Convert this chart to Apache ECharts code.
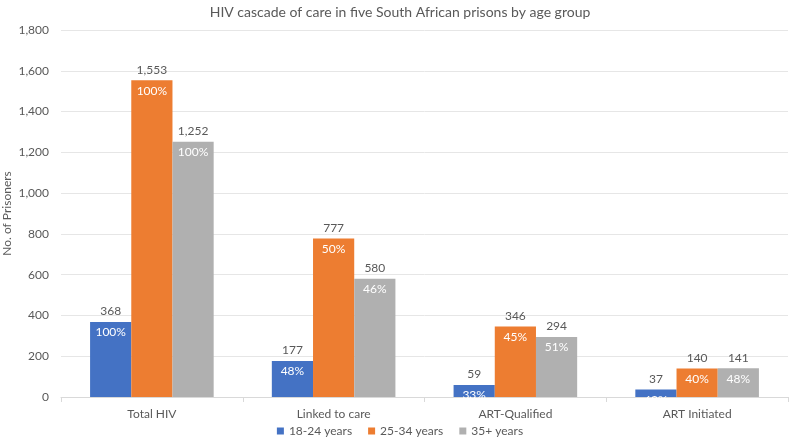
<!DOCTYPE html>
<html>
<head>
<meta charset="utf-8">
<script src="https://cdn.jsdelivr.net/npm/echarts@6/dist/echarts.min.js"></script>
<style>
  html, body { margin: 0; padding: 0; background: #fff; }
  #chart { width: 800px; height: 442px; }
</style>
</head>
<body>
<div id="chart"></div>
<script>
var categories = ['Total HIV', 'Linked to care', 'ART-Qualified', 'ART Initiated'];
var seriesNames = ['18-24 years', '25-34 years', '35+ years'];
var young = [368, 177, 59, 37];
var middle = [1553, 777, 346, 140];
var older = [1252, 580, 294, 141];
var youngPct = ['100%', '48%', '33%', '63%'];
var middlePct = ['100%', '50%', '45%', '40%'];
var olderPct = ['100%', '46%', '51%', '48%'];

var colors = ['#4472C4', '#ED7D31', '#B0B0B0'];
var font = 'Lato, "Open Sans", sans-serif';

function fmt(v) {
  return v.toLocaleString('en-US');
}

function makeSeries(name, values, pcts, color) {
  return {
    name: name,
    type: 'bar',
    data: values,
    itemStyle: { color: color },
    barGap: 0,
    barCategoryGap: '32%',
    label: {
      show: true,
      position: 'insideTop',
      distance: 0,
      offset: [0, -21],
      fontFamily: font,
      formatter: function(p) {
        return '{v|' + fmt(p.value) + '}\n{p|' + pcts[p.dataIndex] + '}';
      },
      rich: {
        v: { color: '#595959', fontSize: 12, lineHeight: 21, fontFamily: font },
        p: { color: '#ffffff', fontSize: 12, lineHeight: 21, fontFamily: font }
      }
    }
  };
}

var chart = echarts.init(document.getElementById('chart'));
chart.setOption({
  animation: false,
  textStyle: { fontFamily: font },
  title: {
    text: 'HIV cascade of care in five South African prisons by age group',
    left: 'center',
    top: 0,
    textStyle: { color: '#595959', fontSize: 14, fontWeight: 'normal', fontFamily: font }
  },
  legend: {
    bottom: 0,
    left: 'center',
    icon: 'rect',
    itemWidth: 7,
    itemHeight: 7,
    itemGap: 16,
    data: seriesNames,
    textStyle: { color: '#595959', fontSize: 12, fontFamily: font }
  },
  grid: { left: 61, right: 12, top: 30, bottom: 45, containLabel: false, outerBoundsMode: 'none' },
  xAxis: {
    type: 'category',
    data: categories,
    axisLine: { lineStyle: { color: '#D9D9D9' } },
    axisTick: { show: true, length: 5, lineStyle: { color: '#D9D9D9' } },
    axisLabel: { color: '#595959', fontSize: 12, margin: 11, fontFamily: font }
  },
  yAxis: {
    type: 'value',
    min: 0,
    max: 1800,
    interval: 200,
    name: 'No. of Prisoners',
    nameLocation: 'middle',
    nameGap: 48,
    nameMoveOverlap: false,
    nameTextStyle: { color: '#595959', fontSize: 12, fontFamily: font },
    axisLine: { show: false },
    axisTick: { show: false },
    axisLabel: { color: '#595959', fontSize: 12, margin: 12, fontFamily: font, formatter: fmt },
    splitLine: { lineStyle: { color: '#E6E6E6' } }
  },
  series: [
    makeSeries(seriesNames[0], young, youngPct, colors[0]),
    makeSeries(seriesNames[1], middle, middlePct, colors[1]),
    makeSeries(seriesNames[2], older, olderPct, colors[2])
  ]
});
</script>
</body>
</html>
